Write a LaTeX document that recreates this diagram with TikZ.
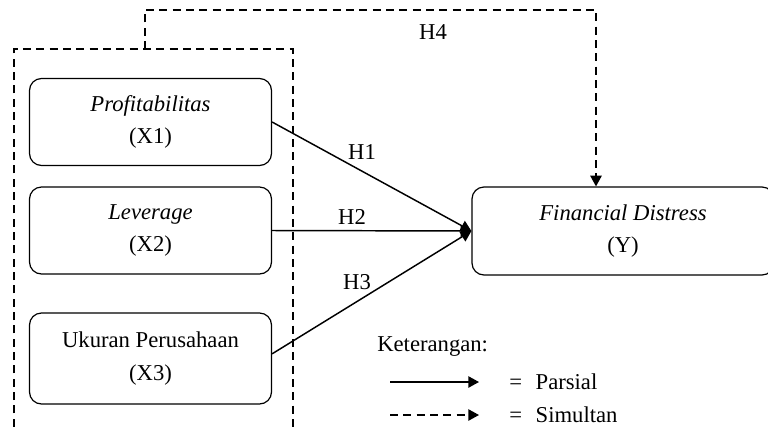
\documentclass[tikz,border=0pt]{standalone}
\usepackage{fontspec}
\setmainfont{Liberation Serif}
\usetikzlibrary{arrows.meta}
\begin{document}
\begin{tikzpicture}[x=0.75pt,y=-0.75pt,
  box/.style={draw, rounded corners=9pt, line width=0.9pt, align=center,
    font=\fontsize{17}{24.5}\selectfont, inner sep=0pt, minimum width=181.5pt},
  lbl/.style={font=\fontsize{17}{20}\selectfont, inner sep=0pt},
  tip/.style={-{Triangle[length=8pt,width=8.5pt]}},
  conn/.style={line width=1.1pt, tip},
  dsh/.style={line width=1.1pt, dash pattern=on 6pt off 4pt}]
\clip (0,0) rectangle (768,426);
\fill[white] (0,0) rectangle (768,426);
% variable boxes
\node[box, minimum height=65.25pt] (x1) at (150.5,122) {\textit{Profitabilitas}\\(X1)};
\node[box, minimum height=65.25pt] (x2) at (150.5,230.5) {\textit{Leverage}\\(X2)};
\node[box, minimum height=68.25pt] (x3) at (150.5,358.5) {Ukuran Perusahaan\\(X3)};
\node[box, minimum width=226.5pt, minimum height=66pt] (y) at (623,231) {\textit{Financial Distress}\\(Y)};
% outer dashed frame
\coordinate (fbl) at (14,440);
\coordinate (ftl) at (14,49);
\coordinate (ftr) at (293,49);
\coordinate (fbr) at (293,440);
\draw[dsh] (fbl) -- (ftl) -- (ftr) -- (fbr);
% simultaneous path H4
\coordinate (h4s) at (145,49);
\coordinate (h4c) at (596,10);
\draw[dsh, tip] (h4s) |- (h4c) -- (h4c |- y.north);
\node[lbl] (h4) at (433,32) {H4};
% partial paths
\draw[conn] (x1.east) -- (y.west);
\draw[conn] (x2.east) -- (y.west);
\draw[conn] ([yshift=3.5pt]x3.east) -- (y.west);
\node[lbl] (h1) at (362,152) {H1};
\node[lbl] (h2) at (352,217) {H2};
\node[lbl] (h3) at (357,282) {H3};
% legend
\node[lbl, anchor=west] (ket) at (377,347) {Keterangan:};
\coordinate (l1a) at (390,382);
\coordinate (l1b) at (479,382);
\coordinate (l2a) at (390,415);
\coordinate (l2b) at (479,415);
\draw[conn] (l1a) -- (l1b);
\draw[dsh, tip] (l2a) -- (l2b);
\node[lbl, anchor=west] (parsial) at (509,382) {=\hspace{0.6em}Parsial};
\node[lbl, anchor=west] (simultan) at (509,415) {=\hspace{0.6em}Simultan};
\end{tikzpicture}
\end{document}
